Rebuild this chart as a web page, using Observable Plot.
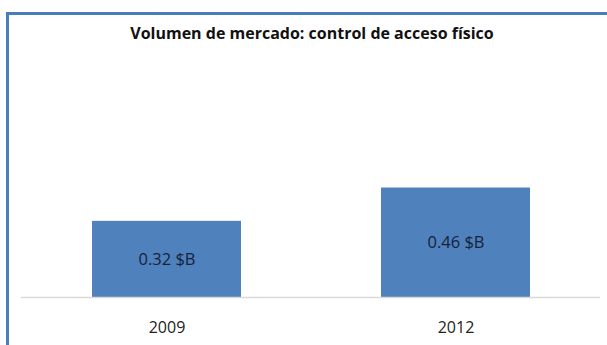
<!DOCTYPE html>
<html>
<head>
<meta charset="utf-8">
<script src="https://cdn.jsdelivr.net/npm/d3@7"></script>
<script src="https://cdn.jsdelivr.net/npm/@observablehq/plot@0.6"></script>
<style>
  html, body { margin: 0; padding: 0; background: #fff; }
  #wrap { position: relative; width: 607px; height: 345px; overflow: hidden; background: #fff; }
  #frame { position: absolute; left: 6px; top: 12px; width: 700px; height: 400px;
           border-left: 3px solid #4a7ebb; border-top: 3px solid #4a7ebb; box-sizing: border-box; }
  #title { position: absolute; left: 0; top: 22px; width: 624px; text-align: center;
           font-family: "Open Sans", sans-serif; font-weight: 700; font-size: 16px; color: #111; }
  #chart { position: absolute; left: 0; top: 50px; }
</style>
</head>
<body>
<div id="wrap">
  <div id="frame"></div>
  <div id="title">Volumen de mercado: control de acceso físico</div>
  <div id="chart"></div>
</div>
<script>
const years = ["2009", "2012"];
const values = [0.32, 0.46];
const labels = ["0.32 $B", "0.46 $B"];

const data = years.map((y, i) => ({year: y, value: values[i], label: labels[i]}));

const chart = Plot.plot({
  width: 607,
  height: 295,
  marginLeft: 21,
  marginRight: 7,
  marginTop: 128,
  marginBottom: 48,
  style: {fontFamily: "Open Sans, sans-serif", fontSize: "16px", background: "transparent", color: "#222"},
  x: {domain: years, paddingInner: 0.485, paddingOuter: 0.244, label: null, tickSize: 0, tickPadding: 24},
  y: {domain: [0, 0.5], axis: null},
  marks: [
    Plot.barY(data, {x: "year", y: "value", fill: "#4f81bd"}),
    Plot.ruleY([0], {stroke: "#d9d9d9", strokeWidth: 1.5}),
    Plot.text(data, {x: "year", y: d => d.value / 2, text: "label", fill: "#15223a", fontSize: 16.5})
  ]
});
chart.querySelectorAll("[aria-label='x-axis tick label'] text").forEach(t => t.setAttribute("fill", "#222"));
document.getElementById("chart").appendChild(chart);
</script>
</body>
</html>
